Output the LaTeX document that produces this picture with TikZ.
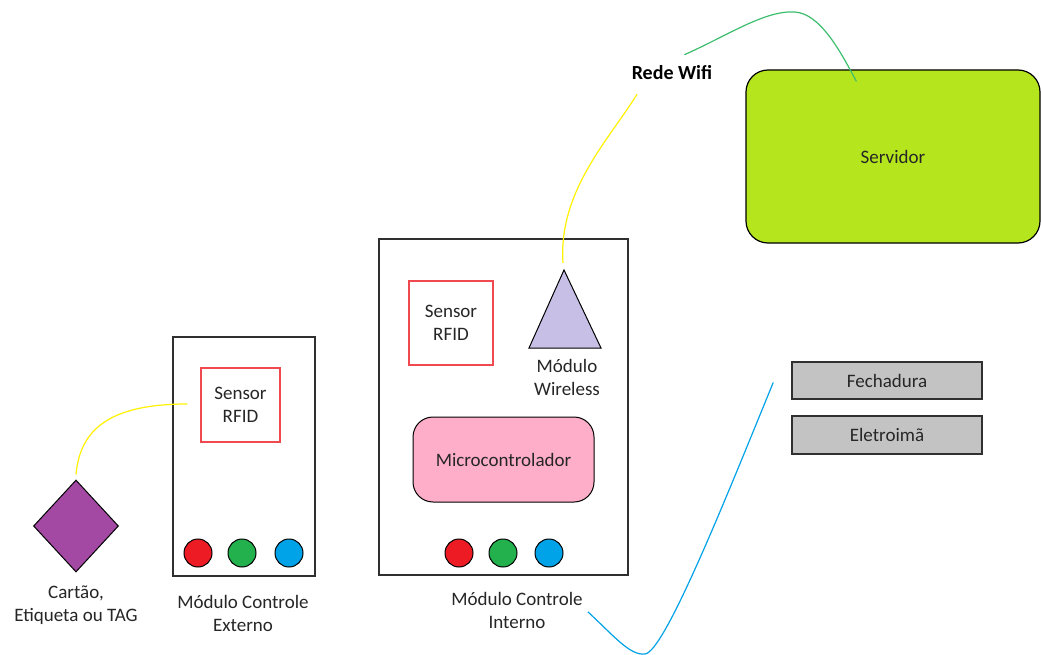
\documentclass[tikz,border=0pt]{standalone}
\usepackage{fontspec}
\setmainfont{Carlito}
\usetikzlibrary{shapes.geometric,calc}
\definecolor{cred}{HTML}{ED1C24}
\definecolor{cgreen}{HTML}{22B14C}
\definecolor{cblue}{HTML}{00A2E8}
\definecolor{cpurple}{HTML}{A349A4}
\definecolor{clav}{HTML}{C8BFE7}
\definecolor{cpink}{HTML}{FFAEC9}
\definecolor{clime}{HTML}{B5E61D}
\definecolor{cgray}{HTML}{C3C3C3}
\definecolor{cyel}{HTML}{FFF200}
\definecolor{cwire}{HTML}{3DBE6E}
\definecolor{cline}{HTML}{303030}
\definecolor{ctext}{HTML}{262626}
\tikzset{
  modbox/.style={draw=cline, line width=1.2pt, fill=white, inner sep=0pt},
  sensbox/.style={draw=cred!80, line width=1.2pt, inner sep=0pt, align=center, text=ctext},
  led/.style={circle, draw=black, line width=1pt, minimum size=28pt, inner sep=0pt},
  grbox/.style={draw=cline, line width=1.5pt, fill=cgray, inner sep=0pt, text=ctext},
  lbl/.style={align=center, inner sep=0pt, text=ctext},
  ywire/.style={draw=cyel, line width=1.2pt},
  gwire/.style={draw=cwire, line width=1.2pt},
  bwire/.style={draw=cblue, line width=1.2pt},
}
\begin{document}
\begin{tikzpicture}[x=1pt,y=-1pt, font=\fontsize{19}{23}\selectfont]
\useasboundingbox (0,0) rectangle (1041,655);
\fill[white] (0,0) rectangle (1041,655);

% external module
\node[modbox, minimum width=142pt, minimum height=239pt] (ext) at (244,456.5) {};
\node[sensbox, minimum width=79pt, minimum height=74pt] (sens1) at (240.5,405) {Sensor\\RFID};
\node[led, fill=cred] (r1) at (198,553) {};
\node[led, fill=cgreen] (g1) at (242,553) {};
\node[led, fill=cblue] (b1) at (289,553) {};
\node[lbl] (extlbl) at (243,613.5) {Módulo Controle\\Externo};

% card
\node[diamond, draw=black, line width=1pt, fill=cpurple, minimum width=85pt, minimum height=92pt, inner sep=0pt] (card) at (76,526) {};
\node[lbl] (cardlbl) at (76,605) {Cartão,\\Etiqueta ou TAG};

% internal module
\node[modbox, minimum width=249pt, minimum height=336pt] (int) at (503.5,407) {};
\node[sensbox, minimum width=84pt, minimum height=84pt] (sens2) at (451,323) {Sensor\\RFID};
\coordinate (apex) at (564,270);
\draw[draw=black, line width=1pt, fill=clav] (apex) -- (601,348) -- (529,348) -- cycle;
\node[lbl] (wlbl) at (567,377) {Módulo\\Wireless};
\node[draw=black, line width=1pt, fill=cpink, rounded corners=20pt, minimum width=181pt, minimum height=85pt, inner sep=0pt, text=ctext] (mcu) at (503.5,459.5) {Microcontrolador};
\node[led, fill=cred] (r2) at (459,553) {};
\node[led, fill=cgreen] (g2) at (503,553) {};
\node[led, fill=cblue] (b2) at (549,553) {};
\node[lbl] (intlbl) at (517,610.5) {Módulo Controle\\Interno};

% network and server
\node[lbl, font=\fontsize{20}{24}\selectfont\bfseries, text=black] (wifi) at (672,73) {Rede Wifi};
\node[draw=black, line width=1.2pt, fill=clime, rounded corners=22pt, minimum width=294pt, minimum height=173pt, inner sep=0pt, text=ctext] (srv) at (893,156.5) {Servidor};

% actuators
\node[grbox, minimum width=190pt, minimum height=37pt] (fech) at (887,380.5) {Fechadura};
\node[grbox, minimum width=190pt, minimum height=38pt] (elet) at (887,435) {Eletroimã};

% wire ends
\coordinate (y1a) at ($(card.north)+(0,-5)$);
\coordinate (y1b) at ($(sens1.west)+(-13,-1)$);
\coordinate (y2a) at ($(apex)+(-1,-7)$);
\coordinate (y2b) at ($(wifi.south)+(-35,14)$);
\coordinate (g3a) at ($(wifi.north east)+(-28,-11)$);
\coordinate (g3b) at ($(srv.north west)+(111,12)$);
\coordinate (b4a) at ($(intlbl.south east)+(5,-17)$);
\coordinate (b4b) at ($(fech.west)+(-18,2)$);

% wires
\draw[ywire] (y1a) .. controls +(4,-45) and +(-78,0) .. (y1b);
\draw[ywire] (y2a) .. controls +(-5,-72) and +(-27,44) .. (y2b);
\draw[gwire] (g3a) .. controls +(43,-19) and +(-30,-2) .. (795,12) .. controls +(25,2) and +(-17,-32) .. (g3b);
\draw[bwire] (b4a) .. controls +(25,23) and +(-15,2) .. (645,654) .. controls +(20,-2) and +(-44,107) .. (b4b);
\end{tikzpicture}
\end{document}
